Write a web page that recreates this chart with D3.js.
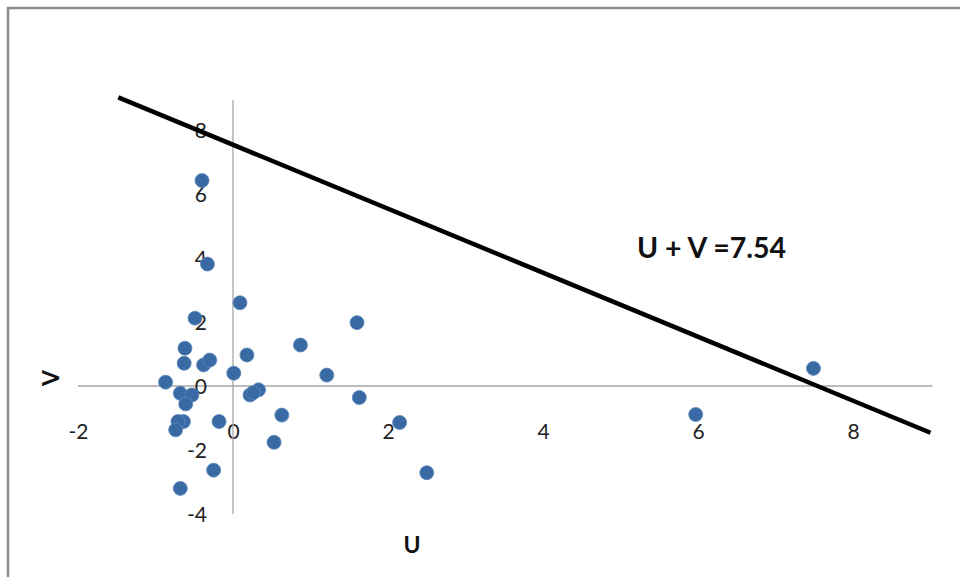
<!DOCTYPE html>
<html>
<head>
<meta charset="utf-8">
<script src="https://cdn.jsdelivr.net/npm/d3@7"></script>
<style>
  html, body { margin: 0; padding: 0; background: #fff; }
  svg { display: block; font-family: Lato, "Open Sans", sans-serif; }
</style>
</head>
<body>
<svg id="chart" width="960" height="577"></svg>
<script>
// Observed (U, V) pairs
const uValues = [-0.40, -0.33, 0.09, -0.49, 1.60, 0.87, -0.62, 0.18, -0.63, -0.38, -0.30, 7.49,
                 0.01, 1.21, -0.87, 0.22, 0.33, 0.26, -0.68, -0.53, 1.63, -0.61, 5.97, 0.63,
                 -0.18, -0.64, -0.71, 2.15, -0.74, 0.53, -0.25, 2.50, -0.68];
const vValues = [6.42, 3.81, 2.60, 2.12, 1.98, 1.28, 1.18, 0.97, 0.71, 0.66, 0.81, 0.55,
                 0.40, 0.34, 0.12, -0.28, -0.12, -0.21, -0.23, -0.28, -0.36, -0.56, -0.89, -0.91,
                 -1.11, -1.11, -1.11, -1.14, -1.37, -1.76, -2.63, -2.71, -3.20];

// Boundary line U + V = c
const lineConstant = 7.54;
const lineU = [-1.48, 9];
const lineLabel = "U + V =7.54";

const xTicks = [-2, 0, 2, 4, 6, 8];
const yTicks = [-4, -2, 0, 2, 4, 6, 8];
const xTitle = "U";
const yTitle = "V";

const svg = d3.select("#chart");

// Chart area frame
svg.append("rect")
  .attr("x", 8).attr("y", 8)
  .attr("width", 980).attr("height", 600)
  .attr("fill", "none")
  .attr("stroke", "#8a8a8a")
  .attr("stroke-width", 2.5);

const x = d3.scaleLinear().domain([-2, 9]).range([78, 930.5]);
const y = d3.scaleLinear().domain([-4, 9]).range([514, 98]);

const axisColor = "#a6a6a6";
const labelColor = "#222";
const plainNumber = d => String(d);

// Horizontal axis, crossing at V = 0
const gx = svg.append("g")
  .attr("transform", `translate(0,${y(0)})`)
  .call(d3.axisBottom(x).tickValues(xTicks).tickSize(0).tickFormat(plainNumber));
gx.select(".domain")
  .attr("stroke", axisColor).attr("stroke-width", 1.3)
  .attr("d", `M${x(-2)},0H${x(9) + 2}`);
gx.selectAll(".tick text")
  .attr("y", 46).attr("dy", "0.35em")
  .attr("fill", labelColor)
  .style("font-size", "21px")
  .style("font-family", "Lato, sans-serif");

// Vertical axis, crossing at U = 0
const gy = svg.append("g")
  .attr("transform", `translate(${x(0)},0)`)
  .call(d3.axisLeft(y).tickValues(yTicks).tickSize(0).tickFormat(plainNumber));
gy.select(".domain")
  .attr("stroke", axisColor).attr("stroke-width", 1.3)
  .attr("d", `M0,${y(-4)}V${y(9) + 2}`);
gy.selectAll(".tick text")
  .attr("x", -26).attr("dy", "0.35em")
  .attr("fill", labelColor)
  .style("font-size", "21px")
  .style("font-family", "Lato, sans-serif");

// Axis titles
svg.append("text")
  .attr("x", 412).attr("y", 545).attr("dy", "0.35em")
  .attr("text-anchor", "middle")
  .attr("font-size", 23).attr("font-weight", "bold")
  .attr("fill", "#111")
  .text(xTitle);
svg.append("text")
  .attr("transform", `translate(51,378) rotate(-90)`)
  .attr("dy", "0.35em")
  .attr("text-anchor", "middle")
  .attr("font-size", 23).attr("font-weight", "bold")
  .attr("fill", "#111")
  .text(yTitle);

// Points
const points = uValues.map((u, i) => ({ u, v: vValues[i] }));
svg.append("g")
  .selectAll("circle")
  .data(points)
  .join("circle")
  .attr("cx", d => x(d.u))
  .attr("cy", d => y(d.v))
  .attr("r", 7)
  .attr("fill", "#3a6aa4")
  .attr("stroke", "#5a86bb")
  .attr("stroke-width", 0.8);

// Boundary line
const lineData = lineU.map(u => ({ u, v: lineConstant - u }));
svg.append("path")
  .datum(lineData)
  .attr("d", d3.line().x(d => x(d.u)).y(d => y(d.v)))
  .attr("fill", "none")
  .attr("stroke", "#000")
  .attr("stroke-width", 4.5);

svg.append("text")
  .attr("x", 637).attr("y", 258)
  .attr("font-size", 28.5).attr("font-weight", "bold")
  .attr("fill", "#111")
  .text(lineLabel);
</script>
</body>
</html>
